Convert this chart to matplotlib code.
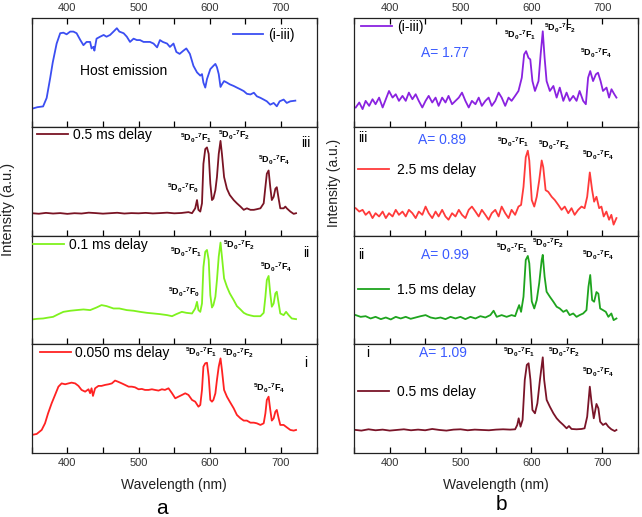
import matplotlib

matplotlib.use("Agg")

import matplotlib.pyplot as plt
from matplotlib.ticker import MultipleLocator

plt.rcParams["font.family"] = ["Liberation Sans", "DejaVu Sans"]
plt.rcParams["mathtext.default"] = "regular"

# --- panel a: host + Eu emission, gated at different delays ---
wl_a_top = [350, 358, 366, 371, 376, 379.5, 385, 390, 394.5, 399, 404, 408.5, 413, 418, 422.6,
            427, 432, 434, 436.7, 438, 441, 446, 451, 455, 460, 464.8, 469.5, 473, 479, 483.5,
            488, 493, 497.6, 502, 507, 511.6, 516, 521, 526, 530, 534, 540, 544, 549, 553,
            557.6, 563, 567, 572, 577, 582, 586.6, 589, 591, 593.6, 596, 600.7, 605, 607.8,
            610, 612.5, 615, 617, 620, 624, 628, 633.5, 638, 643, 647.6, 652, 657, 661.8,
            666, 671, 675.6, 680, 684.8, 689.6, 694, 698, 703.6, 708, 713, 720]
int_a_top = [16.5, 18, 18.7, 26.5, 45, 59, 76.5, 86, 86.5, 85, 87.5, 87.5, 86, 80, 75,
             78, 78, 72, 73.5, 70, 81, 82.8, 84.4, 82.8, 84.4, 87.5, 90.6, 87.5, 86, 82.8,
             78, 81, 79.7, 79.7, 78, 78, 78, 76.5, 73, 79.7, 78, 76.5, 73.4, 76.5, 68.8,
             67, 70, 72, 67, 56, 50, 47, 48.4, 40.6, 36, 43.8, 53, 56, 57.8,
             54.7, 48.4, 36.6, 39, 42, 40.6, 39, 37.5, 36, 34.4, 32.8, 30.3, 29.7, 31.3,
             28, 26.6, 25, 23.4, 20.3, 21.9, 18.8, 23.4, 25, 21.9, 23.4, 24]

wl_a_iii = [350, 360, 370, 380, 390, 400, 410, 420, 430, 440, 450, 460, 470, 480, 490, 500,
            510, 520, 530, 540, 550, 560, 570, 575, 579.5, 582, 584, 586.6, 589, 591, 593.6,
            596, 598.4, 600.7, 603, 605, 607.8, 610, 612.5, 615, 617, 620, 624, 628, 633.5,
            638, 643, 647.6, 652, 657, 661.8, 666, 671, 675.6, 678, 680, 682.5, 684.8, 687,
            689.6, 692, 694, 696.6, 698.9, 703.6, 706, 708, 713, 717.7, 721]
int_a_iii = [20.5, 20, 20.8, 20.2, 20.6, 19.9, 20.5, 20.2, 21, 20.6, 20.1, 20.5, 20.9, 20.2,
             20.6, 20.4, 20.8, 20.3, 20.6, 21, 20.4, 20.7, 21.5, 20.5, 25, 32.6, 23.6, 22,
             29.6, 65.9, 79.5, 81, 75, 47.7, 32.6, 34, 41.7, 53.8, 75, 87, 75, 53.8, 43,
             37.2, 32.6, 29.6, 26.6, 23.6, 25, 23.6, 23.6, 24.2, 25, 29.6, 44.7, 56.8, 59.8,
             44.7, 32.6, 35.6, 43, 44.4, 33.8, 25, 25, 26.6, 25, 22, 19.9, 20.5]

wl_a_ii = [350, 358, 366, 373, 380, 387, 394.5, 404, 413, 422.6, 432, 441, 448, 455, 464.8,
           473, 483.5, 493, 502, 511.6, 521, 530, 540, 547, 553, 560.7, 567, 575, 579.5, 582,
           584, 586.6, 589, 591, 593.6, 596, 598.4, 600.7, 603, 605, 607.8, 610, 612.5, 615,
           617, 620, 624, 628, 633.5, 638, 643, 647.6, 652, 657, 661.8, 666, 671, 675.6, 678,
           680, 682.5, 684.8, 687, 689.6, 692, 694, 696.6, 698.9, 703.6, 707, 710.6, 715, 721]
int_a_ii = [22.8, 23.4, 23.7, 24.5, 25.2, 27.5, 29.8, 30.8, 31.4, 32, 31.4, 33.8, 36, 35.1,
            32.9, 32.9, 31.4, 30.8, 29.8, 28.9, 28.3, 27.7, 26.8, 25.8, 27.7, 29.8, 28.9, 28.3,
            32.9, 39, 31.4, 29.8, 37.5, 71, 85, 86.7, 77.5, 45.2, 33.8, 36, 43.7, 59, 80.6,
            93.5, 80.6, 60.6, 52.9, 46.8, 40.6, 35.1, 32, 28.9, 27.4, 26.5, 25.8, 25.8, 25.8,
            28.9, 43.7, 59, 62.8, 46.8, 34.5, 37.5, 46.8, 48.3, 37.5, 28.3, 26.8, 29.8, 26.8,
            23.7, 23.1]

wl_a_i = [350, 357, 364, 368.7, 373, 378, 382.8, 387.5, 392, 397, 401.6, 406, 411, 415.6, 420,
          425, 429.7, 432, 434, 436, 439, 443.7, 448, 453, 458, 462.5, 467, 471, 476.5, 481,
          486, 490.5, 495, 500, 504.6, 509, 514, 518.7, 523, 528, 532.7, 537, 542, 547, 551.5,
          556, 561, 565.5, 570, 575, 579.5, 584, 586.6, 589, 591, 593.6, 596, 598.4, 600.7,
          603, 605, 607.8, 610, 612.5, 615, 617, 620, 624, 628, 633.5, 638, 643, 647.6, 652,
          657, 661.8, 666, 671, 675.6, 678, 680, 682.5, 684.8, 687, 689.6, 692, 694, 696.6,
          698.9, 703.6, 708, 713, 717.7, 721]
int_a_i = [16.6, 17.5, 21.2, 27.3, 36.5, 45.7, 53.4, 61, 64, 63.2, 64, 64.7, 64, 61.7, 58,
           56.4, 58.6, 55, 59.5, 52.5, 59.5, 61.7, 61.7, 62.6, 63.2, 64, 66.6, 65.6, 64, 62.6,
           61, 61, 60.4, 58.6, 58.9, 58, 58, 58.6, 58, 57.4, 58.6, 58, 59.5, 54.9, 50.3,
           51.8, 53.4, 54.9, 53.4, 48.8, 47.2, 42.6, 44.2, 58, 79.4, 82.5, 83, 70.2, 48.8,
           47.2, 48.8, 54.9, 67.2, 79.4, 87, 76.4, 58, 51.8, 47.2, 41.1, 35, 31.9, 29.8, 29.8,
           27.9, 27.9, 27.3, 25.8, 27.3, 36.5, 48.8, 51.8, 39.9, 29.8, 31.9, 38, 39.6, 31.9,
           25.8, 25.8, 23.6, 21.2, 20.6, 21.2]

# --- panel b: Eu emission at longer delays ---
wl_b_top = [352, 357, 361.7, 366, 371, 375.7, 380, 385, 390, 394.5, 399, 404, 408.5, 413, 418,
            422.6, 427, 432, 436.6, 441, 446, 450.6, 455, 460, 464.7, 469, 474, 478.7, 483, 488,
            492.8, 497.5, 502, 506.8, 511.5, 516, 521, 525.6, 530, 535, 539.6, 544, 549, 553.7,
            558, 563, 567.7, 572, 577, 581.7, 586.4, 589.7, 592.5, 595.8, 598.4, 601.4, 605,
            610, 613, 616, 618.6, 621.4, 626, 631, 635.6, 640, 645, 649.6, 654, 659, 663.7,
            668, 673, 676.8, 680, 683, 687, 691, 694, 697.6, 701, 706, 709.6, 713, 717, 720]
int_b_top = [17.7, 22.3, 16.2, 23.8, 19.2, 25.3, 20.7, 26.8, 17.7, 25.3, 32.9, 26.8, 29.9, 23.8,
             28.4, 23.8, 31.4, 25.3, 29.9, 23.8, 17.7, 23.8, 28.4, 22.3, 26.8, 19.2, 26.8, 22.3,
             28.4, 20.7, 23.8, 26.8, 31.4, 23.8, 17.7, 23.8, 20.7, 26.8, 19.2, 23.8, 26.8, 19.2,
             23.8, 31.4, 26.8, 19.2, 26.8, 23.8, 28.4, 32.9, 45.1, 66.5, 69.5, 63.4, 61.9, 42,
             32.9, 42, 66.5, 87.8, 63.4, 42, 32.9, 37.5, 26.8, 36, 23.8, 31.4, 23.8, 28.4, 23.8,
             32.9, 23.8, 20.7, 45.1, 51.2, 42, 48.2, 49.7, 42, 32.9, 36, 26.8, 34.5, 29.9, 26.8]

wl_b_iii = [352, 357, 361.7, 366, 371, 375.7, 380, 385, 390, 394.5, 399, 404, 408.5, 413, 418,
            422.6, 427, 432, 436.6, 441, 446, 450.6, 455, 460, 464.7, 469, 474, 478.7, 483, 488,
            492.8, 497.5, 502, 506.8, 511.5, 516, 521, 525.6, 530, 535, 539.6, 544, 549, 553.7,
            558, 563, 567.7, 572, 577, 581.7, 585.4, 588.8, 592, 594.9, 597, 600.5, 604, 607.5,
            611, 614.5, 616.7, 620, 623.7, 628.6, 633, 638, 642.6, 647, 652, 656.6, 661, 666,
            670.7, 675, 678.7, 682.4, 685.7, 688.5, 691.8, 695.6, 698.8, 702, 705.8, 709.6,
            712.8, 716, 720]
int_b_iii = [25.1, 22, 23.6, 19, 22, 16, 20.5, 17.5, 22, 16, 20.5, 17.5, 23.6, 19, 22, 17.5,
             23.6, 20.5, 16, 22, 19, 26.6, 20.5, 16, 22, 17.5, 23.6, 17.5, 14.5, 20.5, 17.5,
             23.6, 19, 16, 23.6, 26.6, 22, 17.5, 23.6, 19, 14.5, 20.5, 23.6, 17.5, 26.6, 20.5,
             16, 23.6, 19, 26.6, 28.1, 44.7, 72, 78, 68.9, 32.6, 26.6, 35.6, 50.8, 69, 62.8,
             41.7, 40.2, 35.6, 32.6, 28.1, 23.6, 26.6, 20.5, 25.1, 19, 23.6, 26.6, 25.1, 35.6,
             58, 41.7, 31.1, 35.6, 25.1, 26.6, 17.5, 22, 14.5, 19, 10, 16]

wl_b_ii = [352, 359, 366, 373, 380, 387.5, 394.5, 401.5, 408.5, 415.5, 422.6, 429.6, 436.6,
           443.6, 450.6, 457.7, 464.7, 471.7, 478.7, 485.8, 492.8, 499.8, 506.8, 513.9, 521,
           528, 535, 542, 546.6, 551, 558, 565, 572, 577, 580, 582.7, 585.4, 588.8, 592, 594.9,
           597, 600.5, 604, 607.5, 611, 614.5, 616, 618.6, 621.4, 626, 631, 635.6, 640, 645,
           649.6, 654, 659, 663.7, 668, 673, 677.7, 680.5, 683, 685.7, 688.5, 691.8, 694.5,
           697, 701, 705, 708.6, 712.8, 716, 720]
int_b_ii = [26.8, 25.2, 25.8, 23.7, 25.2, 23.1, 24.6, 22.8, 25.2, 23.7, 25.2, 23.4, 24.6, 25.8,
            26.8, 24.6, 23.7, 24.6, 23.1, 25.2, 23.7, 25.2, 23.1, 25.2, 23.7, 25.8, 24.6, 26.8,
            30.8, 25.2, 26.8, 25.2, 26.8, 25.8, 31.4, 36, 29.8, 43.7, 77.5, 81.2, 74.5, 39.4,
            32.9, 40.6, 56.3, 77.5, 82.2, 62.2, 48.3, 43.7, 39.1, 34.5, 32.9, 29.8, 31.4, 26.8,
            28.3, 25.2, 26.8, 28.3, 31.4, 52.9, 63.7, 40.6, 39.1, 48, 46.5, 32.9, 31.4, 29.8,
            25.2, 28.3, 22.2, 23.7]

wl_b_i = [352, 360, 370, 380, 390, 400, 410, 420, 430, 440, 450, 460, 470, 480, 490, 500, 510,
          520, 530, 540, 550, 560, 570, 577, 580, 582, 584.6, 587.5, 590.6, 593.5, 596, 598.6,
          601.4, 605, 608.4, 612, 616, 618, 621.5, 626, 631, 635.6, 640, 645, 649.6, 653,
          656.6, 663.7, 670.7, 675, 678.7, 682.4, 685, 688, 691.8, 694.5, 697, 701, 705,
          708.6, 712.8, 717.5, 720]
int_b_i = [21.2, 20.6, 21.8, 20.9, 21.5, 20.6, 21.2, 21.8, 20.9, 21.5, 20.9, 22.1, 21.2, 20.6,
           21.5, 21.8, 20.9, 21.5, 21.2, 20.9, 21.5, 21.8, 21.5, 21.8, 25.8, 31.9, 24.2, 30.4,
           67.2, 81, 82.5, 67.2, 39.6, 36.5, 45.7, 67.2, 88, 67.2, 48.8, 42.6, 36.5, 31.9,
           28.8, 25.8, 22.7, 24.8, 22.1, 21.8, 22.1, 22.7, 33.4, 61, 45.7, 31.9, 45.1, 41.1,
           28.8, 25.8, 27.3, 24.2, 21.8, 20.2, 21.2]

labels_a = ["(i-iii)", "0.5 ms delay", "0.1 ms delay", "0.050 ms delay"]
labels_b = ["(i-iii)", "2.5 ms delay", "1.5 ms delay", "0.5 ms delay"]
colors_a = ["#3b4ef2", "#7a1424", "#7ff21e", "#ff2222"]
colors_b = ["#8a22e0", "#ff3a3a", "#1ea41e", "#7a1428"]
numerals = ["", "iii", "ii", "i"]
a_values = ["A= 1.77", "A= 0.89", "A= 0.99", "A= 1.09"]

series_a = [(wl_a_top, int_a_top), (wl_a_iii, int_a_iii), (wl_a_ii, int_a_ii), (wl_a_i, int_a_i)]
series_b = [(wl_b_top, int_b_top), (wl_b_iii, int_b_iii), (wl_b_ii, int_b_ii), (wl_b_i, int_b_i)]


def trans(n):
    return rf"$^5$D$_0$-$^7$F$_{n}$"


fig = plt.figure(figsize=(6.42, 5.17), dpi=100)
W, H = 642.0, 517.0
top_px, panel_px = 18.0, 108.75


def make_axes(left_px, width_px):
    axs = []
    for k in range(4):
        b = 1 - (top_px + (k + 1) * panel_px) / H
        ax = fig.add_axes([left_px / W, b, width_px / W, panel_px / H])
        ax.set_xlim(350, 750)
        ax.set_ylim(0, 100)
        ax.set_yticks([])
        ax.xaxis.set_major_locator(MultipleLocator(100))
        ax.xaxis.set_minor_locator(MultipleLocator(50))
        ax.tick_params(axis="x", which="both", direction="in", length=4, width=0.9,
                       labelsize=8, labelcolor="#333333", pad=3.5,
                       top=(k == 0), bottom=True, labeltop=(k == 0), labelbottom=(k == 3))
        for s in ax.spines.values():
            s.set_linewidth(0.9)
            s.set_color("#222222")
        axs.append(ax)
    return axs


axes_a = make_axes(31.7, 285.0)
axes_b = make_axes(354.3, 283.4)

# legend anchor (axes fraction) per panel
leg_a = [(0.706, 0.844), (0.019, 0.924), (0.005, 0.913), (0.029, 0.92)]
leg_b = [(0.024, 0.917), (0.013, 0.602), (0.013, 0.499), (0.013, 0.56)]

for k in range(4):
    ax = axes_a[k]
    x, y = series_a[k]
    ax.plot(x, y, color=colors_a[k], lw=1.3, label=labels_a[k])
    ax.legend(loc="center left", bbox_to_anchor=leg_a[k], frameon=False, fontsize=10,
              handlelength=2.2, handletextpad=0.35, borderpad=0, borderaxespad=0)
    ax = axes_b[k]
    x, y = series_b[k]
    ax.plot(x, y, color=colors_b[k], lw=1.3, label=labels_b[k])
    ax.legend(loc="center left", bbox_to_anchor=leg_b[k], frameon=False, fontsize=10,
              handlelength=2.2, handletextpad=0.6 if k else 0.4, borderpad=0,
              borderaxespad=0)

# panel a annotations (wavelength, intensity)
axes_a[0].text(418, 51.3, "Host emission", fontsize=10, va="center")
ann_a = {
    1: [(0, 540, 43.7), (1, 558.6, 89.7), (2, 612, 92.4), (4, 667, 69.4)],
    2: [(0, 541.7, 48), (1, 544.5, 84.8), (2, 619, 91.3), (4, 671, 71)],
    3: [(1, 565.7, 92.9), (2, 617.7, 92), (4, 660, 59.8)],
}
num_pos_a = {1: (727.5, 85), 2: (731.6, 84), 3: (733, 82.8)}
for k, items in ann_a.items():
    for n, xw, yi in items:
        axes_a[k].text(xw, yi, trans(n), fontsize=6.5, fontweight="bold",
                       va="center", ha="left")
    axes_a[k].text(*num_pos_a[k], numerals[k], fontsize=10, va="center")

# panel b annotations
ann_b = {
    0: [(1, 561.7, 84.4), (2, 617.8, 90.8), (4, 668.4, 67.8)],
    1: [(1, 551.8, 86), (2, 609.4, 83.2), (4, 671.2, 74)],
    2: [(1, 550.4, 88.5), (2, 601, 93), (4, 671.2, 82)],
    3: [(1, 560.2, 92.9), (2, 623.5, 92.9), (4, 671.2, 74.5)],
}
a_pos = [(443.7, 67.8), (439.5, 87.8), (443.7, 82), (440.9, 92)]
num_pos_b = {1: (355, 89.7), 2: (355, 82), 3: (366.4, 92)}
for k, items in ann_b.items():
    for n, xw, yi in items:
        axes_b[k].text(xw, yi, trans(n), fontsize=6.5, fontweight="bold",
                       va="center", ha="left", clip_on=False)
    axes_b[k].text(*a_pos[k], a_values[k], fontsize=10, color="#3b5bff", va="center")
    if k in num_pos_b:
        axes_b[k].text(*num_pos_b[k], numerals[k], fontsize=10, va="center", ha="left")

# axis titles and panel letters
fig.text(8 / W, 1 - 209 / H, "Intensity (a.u.)", rotation=90, fontsize=10.5,
         ha="center", va="center", color="#222222")
fig.text(334 / W, 1 - 183 / H, "Intensity (a.u.)", rotation=90, fontsize=10,
         ha="center", va="center", color="#222222")
fig.text(174 / W, 1 - 485 / H, "Wavelength (nm)", fontsize=10, ha="center", va="center",
         color="#222222")
fig.text(496 / W, 1 - 485 / H, "Wavelength (nm)", fontsize=10, ha="center", va="center",
         color="#222222")
fig.text(162 / W, 1 - 508 / H, "a", fontsize=15, ha="center", va="center")
fig.text(501 / W, 1 - 505 / H, "b", fontsize=15, ha="center", va="center")

fig.savefig("out.png", dpi=100)
plt.close(fig)
